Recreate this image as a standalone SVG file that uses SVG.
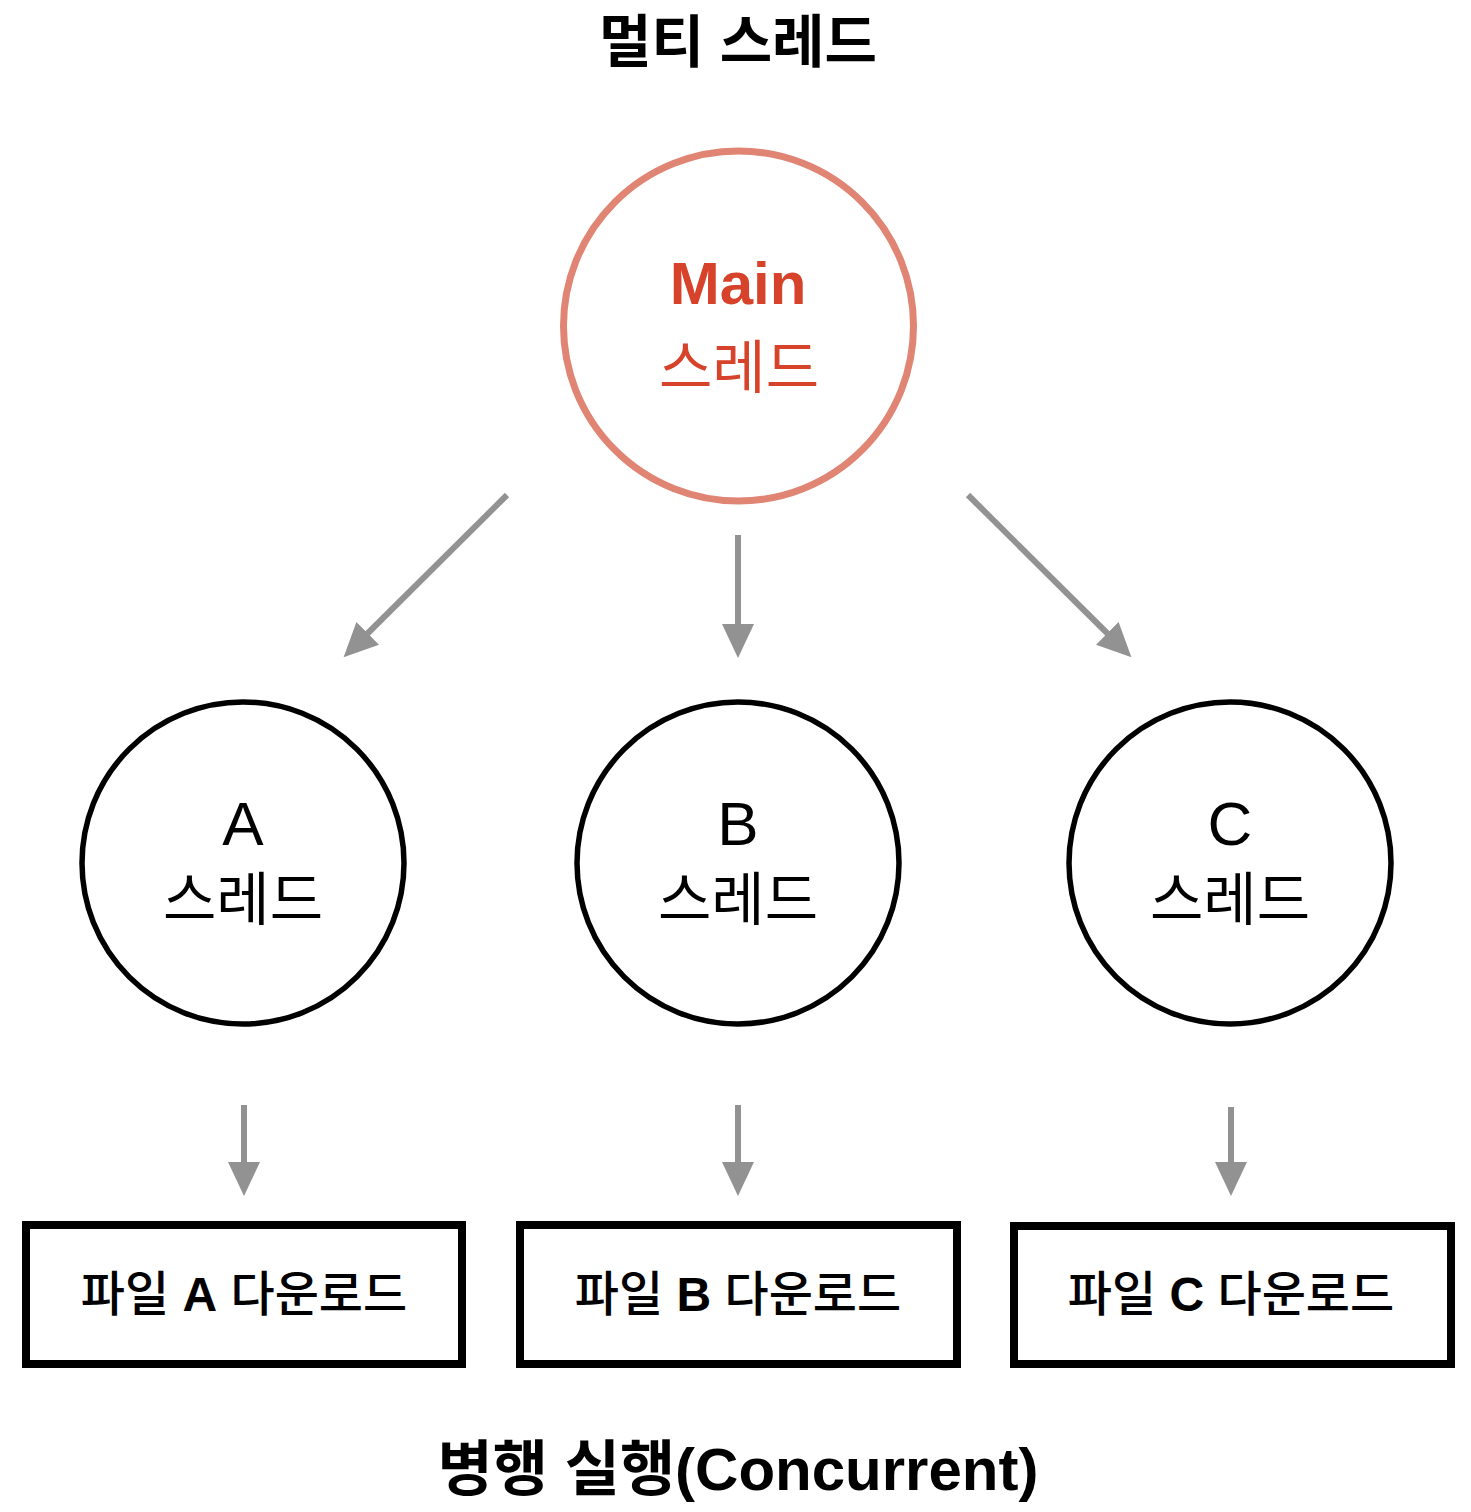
<svg xmlns="http://www.w3.org/2000/svg" width="1471" height="1512" viewBox="0 0 1471 1512">
  <style>
    text { font-family: "Liberation Sans", "Noto Sans CJK KR", sans-serif; text-anchor: middle; }
    .title { font-size: 60px; font-weight: 700; fill: #000; }
    .top { font-size: 57px; }
    .node { fill: #fff; stroke: #000; stroke-width: 5.5; }
    .main { fill: #fff; stroke: #E08474; stroke-width: 7; }
    .mainTxt { fill: #D6432A; }
    .lbl { font-size: 62px; fill: #000; }
    .kr { font-size: 58px; fill: #000; }
    .box { fill: #fff; stroke: #000; stroke-width: 8; }
    .boxTxt { font-size: 48px; font-weight: 500; fill: #000; }
    .conn { stroke: #929292; stroke-width: 6; fill: none; marker-end: url(#arrow); }
  </style>
  <defs>
    <marker id="arrow" markerUnits="userSpaceOnUse" markerWidth="36" markerHeight="34" refX="1" refY="16" orient="auto">
      <path d="M0,0 L34,16 L0,32 z" fill="#929292"/>
    </marker>
  </defs>
  <rect width="1471" height="1512" fill="#fff"/>

  <text class="title top" x="738" y="62">멀티 스레드</text>

  <g id="main">
    <circle class="main" cx="738.5" cy="326" r="175"/>
    <text class="mainTxt" x="738" y="304" font-size="60" font-weight="700">Main</text>
    <text class="mainTxt" x="739" y="388" font-size="58">스레드</text>
  </g>

  <g id="connectors">
    <line class="conn" x1="507" y1="495" x2="367" y2="634"/>
    <line class="conn" x1="738" y1="535" x2="738" y2="625"/>
    <line class="conn" x1="968" y1="495" x2="1108" y2="634"/>
    <line class="conn" x1="244" y1="1105" x2="244" y2="1163"/>
    <line class="conn" x1="738" y1="1105" x2="738" y2="1163"/>
    <line class="conn" x1="1231" y1="1107" x2="1231" y2="1163"/>
  </g>

  <g id="threadA">
    <circle class="node" cx="243" cy="863" r="161"/>
    <text class="lbl" x="243" y="845">A</text>
    <text class="kr" x="243" y="920">스레드</text>
  </g>
  <g id="threadB">
    <circle class="node" cx="738" cy="863" r="161"/>
    <text class="lbl" x="738" y="845">B</text>
    <text class="kr" x="738" y="920">스레드</text>
  </g>
  <g id="threadC">
    <circle class="node" cx="1230" cy="863" r="161"/>
    <text class="lbl" x="1230" y="845">C</text>
    <text class="kr" x="1230" y="920">스레드</text>
  </g>

  <g id="fileA">
    <rect class="box" x="26" y="1225" width="436" height="139"/>
    <text class="boxTxt" x="244" y="1311">파일 <tspan font-weight="700">A</tspan> 다운로드</text>
  </g>
  <g id="fileB">
    <rect class="box" x="520" y="1225" width="437" height="139"/>
    <text class="boxTxt" x="738" y="1311">파일 <tspan font-weight="700">B</tspan> 다운로드</text>
  </g>
  <g id="fileC">
    <rect class="box" x="1014" y="1226" width="437" height="138"/>
    <text class="boxTxt" x="1231" y="1311">파일 <tspan font-weight="700">C</tspan> 다운로드</text>
  </g>

  <text class="title" x="738" y="1490">병행 실행(Concurrent)</text>
</svg>
